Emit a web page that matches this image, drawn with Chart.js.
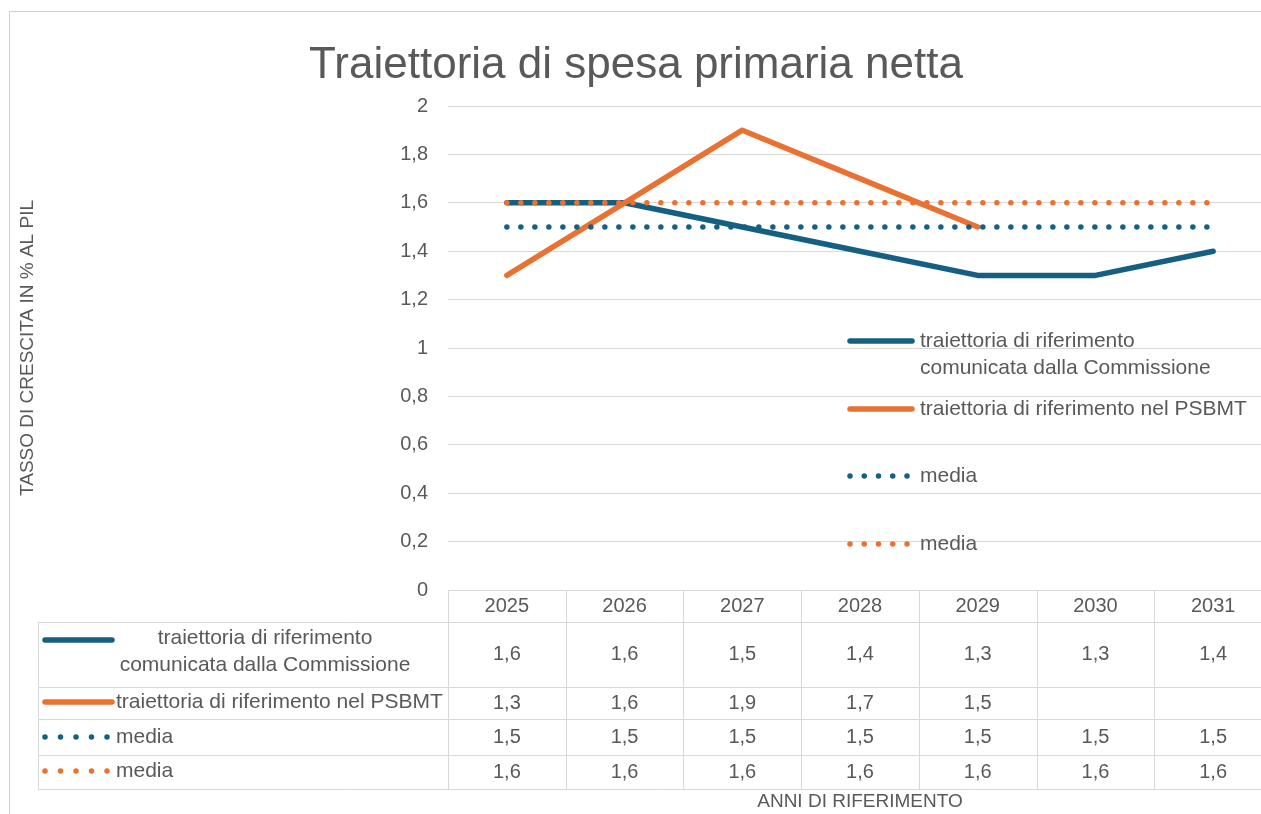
<!DOCTYPE html>
<html>
<head>
<meta charset="utf-8">
<script src="https://cdn.jsdelivr.net/npm/chart.js@4.4.0/dist/chart.umd.min.js"></script>
<style>
html,body{margin:0;padding:0;background:#fff;overflow:hidden;}
#wrap{position:relative;width:1261px;height:814px;overflow:hidden;}
#c{position:absolute;left:0;top:0;}
#frame{position:absolute;left:9px;top:11px;right:-5px;bottom:-5px;border-left:1px solid #d0d0d0;border-top:1px solid #d0d0d0;pointer-events:none;}
</style>
</head>
<body>
<div id="wrap"><canvas id="c" width="1280" height="814"></canvas><div id="frame"></div></div>
<script>
// ---- data ----
const categories = ['2025', '2026', '2027', '2028', '2029', '2030', '2031'];
const commissione = [1.6, 1.6, 1.5, 1.4, 1.3, 1.3, 1.4];
const psbmt = [1.3, 1.6, 1.9, 1.7, 1.5, null, null];
const mediaCommissione = [1.5, 1.5, 1.5, 1.5, 1.5, 1.5, 1.5];
const mediaPsbmt = [1.6, 1.6, 1.6, 1.6, 1.6, 1.6, 1.6];
const seriesLabels = [
  ['traiettoria di riferimento', 'comunicata dalla Commissione'],
  ['traiettoria di riferimento nel PSBMT'],
  ['media'],
  ['media']
];
const titleText = 'Traiettoria di spesa primaria netta';
const yTitle = 'TASSO DI CRESCITA IN % AL PIL';
const xTitle = 'ANNI DI RIFERIMENTO';
const yMin = 0, yMax = 2, yStep = 0.2;

// ---- style ----
const BLUE = '#156082';
const ORANGE = '#E97132';
const TEXT = '#595959';
const GRID = '#d9d9d9';
const FONT = "'Liberation Sans', Arial, sans-serif";

const fmt = v => (v === null || v === undefined) ? '' : v.toFixed(1).replace('.', ',');

function drawSample(ctx, ds, x1, x2, y) {
  ctx.save();
  ctx.strokeStyle = ds.borderColor;
  ctx.lineWidth = ds.borderWidth;
  ctx.lineCap = 'round';
  if (ds.borderDash && ds.borderDash.length) {
    const gap = (x2 - x1) / 4;
    ctx.setLineDash([0, gap]);
    ctx.beginPath();
    ctx.moveTo(x1, y);
    ctx.lineTo(x2 + 0.5, y);
    ctx.stroke();
  } else {
    ctx.beginPath();
    ctx.moveTo(x1, y);
    ctx.lineTo(x2, y);
    ctx.stroke();
  }
  ctx.restore();
}

const insideLegend = {
  id: 'insideLegend',
  afterDatasetsDraw(chart) {
    const ctx = chart.ctx, a = chart.chartArea;
    const x1 = a.left + 402, x2 = a.left + 464, tx = a.left + 472;
    const offs = [235, 303, 370, 438];
    ctx.save();
    ctx.font = '21px ' + FONT;
    ctx.fillStyle = TEXT;
    ctx.textBaseline = 'middle';
    ctx.textAlign = 'left';
    chart.data.datasets.forEach((ds, i) => {
      const y = a.top + offs[i];
      const xe = ds.borderDash && ds.borderDash.length ? x2 - 5 : x2;
      drawSample(ctx, ds, x1, xe, y);
      seriesLabels[i].forEach((line, j) => ctx.fillText(line, tx, y + j * 27));
    });
    ctx.restore();
  }
};

const dataTable = {
  id: 'dataTable',
  afterDraw(chart) {
    const ctx = chart.ctx, a = chart.chartArea, xs = chart.scales.x;
    const n = categories.length;
    const colW = (a.right - a.left) / n;
    const b = a.bottom;
    const rowLines = [b + 32, b + 97, b + 129, b + 165, b + 199];
    const rowCenters = [b + 64.5, b + 113, b + 147, b + 182];
    const leftX = 38;
    ctx.save();
    ctx.strokeStyle = GRID;
    ctx.lineWidth = 1;
    ctx.beginPath();
    rowLines.forEach(y => { ctx.moveTo(leftX, y + 0.5); ctx.lineTo(a.right + 20, y + 0.5); });
    for (let k = 0; k <= n; k++) {
      const x = Math.round(a.left + k * colW) + 0.5;
      ctx.moveTo(x, b); ctx.lineTo(x, rowLines[4]);
    }
    ctx.moveTo(leftX + 0.5, rowLines[0]); ctx.lineTo(leftX + 0.5, rowLines[4]);
    ctx.stroke();

    ctx.fillStyle = TEXT;
    ctx.font = '20px ' + FONT;
    ctx.textAlign = 'center';
    ctx.textBaseline = 'middle';
    categories.forEach((c, i) => ctx.fillText(c, xs.getPixelForValue(i), b + 16));
    chart.data.datasets.forEach((ds, r) => {
      ds.data.forEach((v, i) => ctx.fillText(fmt(v), xs.getPixelForValue(i), rowCenters[r]));
    });

    // row labels with keys
    ctx.font = '21px ' + FONT;
    const keyY = [b + 50, b + 112, b + 147, b + 181];
    chart.data.datasets.forEach((ds, r) => {
      const dotted = ds.borderDash && ds.borderDash.length;
      drawSample(ctx, ds, 45, dotted ? 107 : 112, keyY[r]);
      const lines = seriesLabels[r];
      if (lines.length > 1) {
        ctx.textAlign = 'center';
        lines.forEach((l, j) => ctx.fillText(l, 265, b + 48 + j * 27));
      } else {
        ctx.textAlign = 'left';
        ctx.fillText(lines[0], 116, keyY[r]);
      }
    });
    ctx.restore();
  }
};

new Chart(document.getElementById('c'), {
  type: 'line',
  data: {
    labels: categories,
    datasets: [
      { label: seriesLabels[0].join(' '), data: commissione, borderColor: BLUE, backgroundColor: BLUE,
        borderWidth: 5.5, pointRadius: 0, borderCapStyle: 'round', borderJoinStyle: 'round', order: 4 },
      { label: seriesLabels[1].join(' '), data: psbmt, borderColor: ORANGE, backgroundColor: ORANGE,
        borderWidth: 5.5, pointRadius: 0, borderCapStyle: 'round', borderJoinStyle: 'round', order: 3 },
      { label: seriesLabels[2].join(' '), data: mediaCommissione, borderColor: BLUE, backgroundColor: BLUE,
        borderWidth: 5.5, pointRadius: 0, borderCapStyle: 'round', borderDash: [0, 14], order: 2 },
      { label: seriesLabels[3].join(' '), data: mediaPsbmt, borderColor: ORANGE, backgroundColor: ORANGE,
        borderWidth: 5.5, pointRadius: 0, borderCapStyle: 'round', borderDash: [0, 14], order: 1 }
    ]
  },
  options: {
    responsive: false,
    animation: false,
    devicePixelRatio: 1,
    layout: { padding: { left: 0, right: 8, top: 0, bottom: 0 } },
    plugins: {
      legend: { display: false },
      tooltip: { enabled: false },
      title: {
        display: true, text: titleText, color: TEXT,
        font: { family: FONT, size: 44, weight: 'normal', lineHeight: 1.2 },
        padding: { top: 39.6, bottom: 13.6 }
      }
    },
    scales: {
      x: {
        type: 'category', offset: true,
        grid: { display: false }, border: { display: false },
        ticks: { display: false },
        title: { display: true, text: xTitle, color: TEXT,
          font: { family: FONT, size: 19, lineHeight: 1.2 }, padding: { top: 0, bottom: 0.6 } },
        afterFit(s) { s.height = 224; }
      },
      y: {
        min: yMin, max: yMax,
        ticks: { stepSize: yStep, color: TEXT, padding: 20, font: { family: FONT, size: 20 },
          callback: v => fmt(v) === '0,0' ? '0' : (fmt(v).endsWith(',0') ? String(Math.round(v)) : fmt(v)) },
        grid: { color: GRID, lineWidth: 1, drawTicks: false },
        border: { display: false },
        title: { display: true, text: yTitle, color: TEXT,
          font: { family: FONT, size: 19, lineHeight: 1.2 }, padding: { top: 16.6, bottom: 0 } },
        afterFit(s) { s.width = 448; }
      }
    }
  },
  plugins: [insideLegend, dataTable]
});
</script>
</body>
</html>
